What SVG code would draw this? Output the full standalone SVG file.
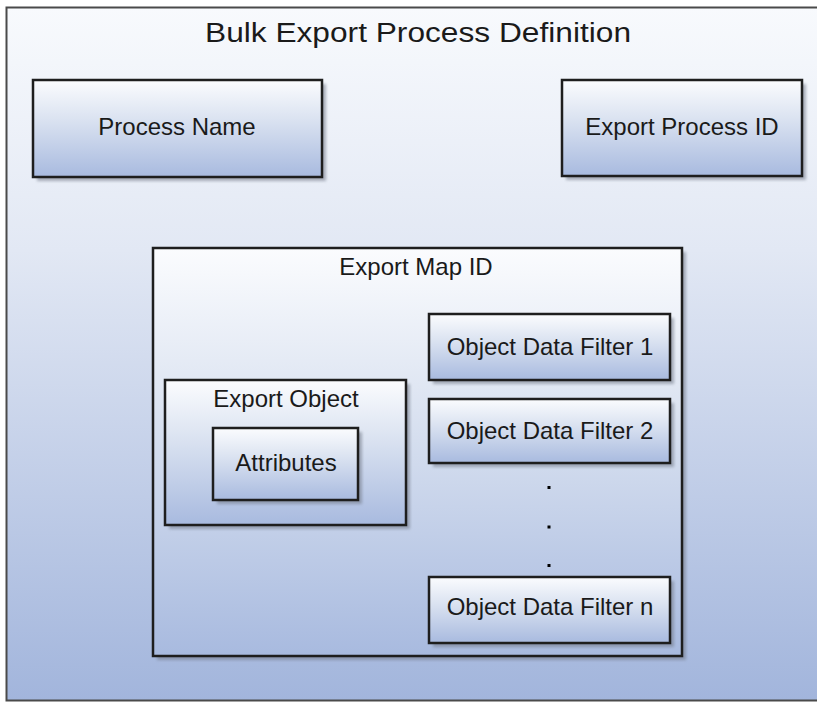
<svg xmlns="http://www.w3.org/2000/svg" width="817" height="702" viewBox="0 0 817 702">
  <defs>
    <linearGradient id="gOuter" x1="0" y1="0" x2="0" y2="1">
      <stop offset="0" stop-color="#f8fafd"/>
      <stop offset="0.35" stop-color="#e2e8f4"/>
      <stop offset="1" stop-color="#a2b5dc"/>
    </linearGradient>
    <linearGradient id="gBox" x1="0" y1="0" x2="0" y2="1">
      <stop offset="0" stop-color="#fbfcfe"/>
      <stop offset="0.4" stop-color="#dbe3f1"/>
      <stop offset="1" stop-color="#a8badf"/>
    </linearGradient>
    <filter id="shadow" x="-10%" y="-10%" width="130%" height="130%">
      <feGaussianBlur stdDeviation="1.5"/>
    </filter>
    <style>
      .box { fill: url(#gBox); stroke: #1e1e1e; stroke-width: 2.5; }
      .shd { fill: #6f7785; opacity: 0.55; filter: url(#shadow); }
      .lbl { font-family: "Liberation Sans", Arial, sans-serif; font-size: 24px; fill: #1a1a1a; text-anchor: middle; }
      .title { font-family: "Liberation Sans", Arial, sans-serif; font-size: 27px; fill: #1a1a1a; text-anchor: middle; }
      .dot { fill: #000; }
    </style>
  </defs>

  <rect x="0" y="0" width="817" height="702" fill="#ffffff"/>

  <g id="bulk-export-process-definition">
    <rect x="6.5" y="7.5" width="840" height="693" fill="url(#gOuter)" stroke="#4a4a4a" stroke-width="2"/>
    <text class="title" x="418" y="42" textLength="426" lengthAdjust="spacingAndGlyphs">Bulk Export Process Definition</text>
  </g>

  <g id="process-name">
    <rect class="shd" x="37" y="84" width="289" height="97"/>
    <rect class="box" x="33" y="80" width="289" height="97"/>
    <text class="lbl" x="177" y="135">Process Name</text>
  </g>

  <g id="export-process-id">
    <rect class="shd" x="566" y="84" width="240" height="96"/>
    <rect class="box" x="562" y="80" width="240" height="96"/>
    <text class="lbl" x="682" y="135">Export Process ID</text>
  </g>

  <g id="export-map-id">
    <rect class="shd" x="157" y="252" width="529" height="408"/>
    <rect class="box" x="153" y="248" width="529" height="408"/>
    <text class="lbl" x="416" y="275">Export Map ID</text>
  </g>

  <g id="export-object">
    <rect class="shd" x="169" y="384" width="241" height="145"/>
    <rect class="box" x="165" y="380" width="241" height="145"/>
    <text class="lbl" x="286" y="407">Export Object</text>
  </g>

  <g id="attributes">
    <rect class="shd" x="217" y="432" width="145" height="72"/>
    <rect class="box" x="213" y="428" width="145" height="72"/>
    <text class="lbl" x="286" y="471">Attributes</text>
  </g>

  <g id="object-data-filter-1">
    <rect class="shd" x="433" y="318" width="241" height="66"/>
    <rect class="box" x="429" y="314" width="241" height="66"/>
    <text class="lbl" x="550" y="355">Object Data Filter 1</text>
  </g>

  <g id="object-data-filter-2">
    <rect class="shd" x="433" y="403" width="241" height="64"/>
    <rect class="box" x="429" y="399" width="241" height="64"/>
    <text class="lbl" x="550" y="439">Object Data Filter 2</text>
  </g>

  <g id="ellipsis">
    <rect class="dot" x="547.5" y="486" width="3" height="3"/>
    <rect class="dot" x="547.5" y="525.5" width="3" height="3"/>
    <rect class="dot" x="547.5" y="564" width="3" height="3"/>
  </g>

  <g id="object-data-filter-n">
    <rect class="shd" x="433" y="581" width="241" height="66"/>
    <rect class="box" x="429" y="577" width="241" height="66"/>
    <text class="lbl" x="550" y="615">Object Data Filter n</text>
  </g>

  <g id="connectors"></g>
</svg>
